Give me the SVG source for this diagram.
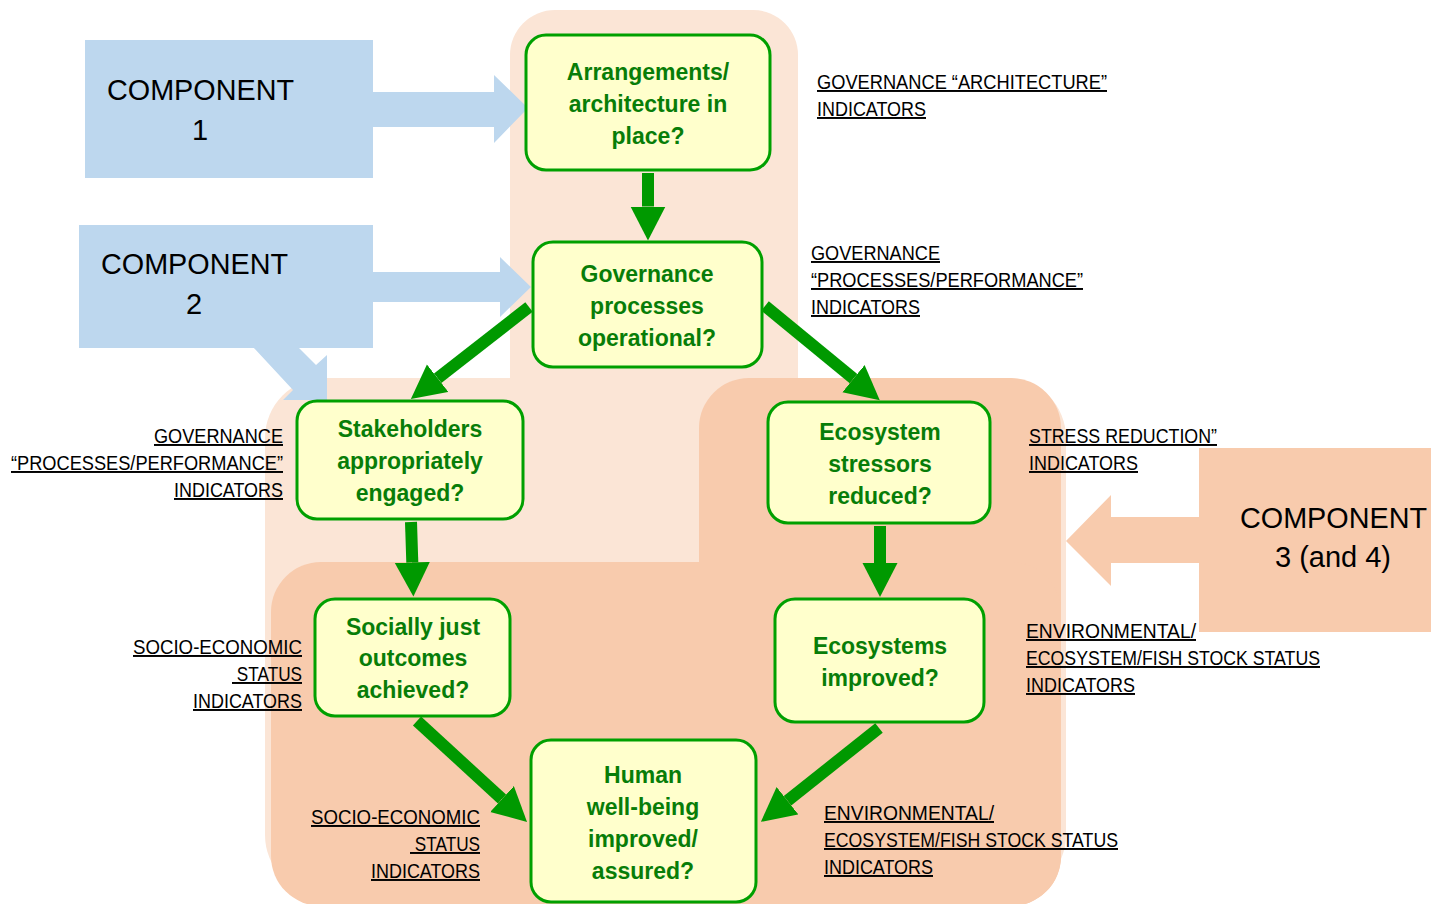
<svg xmlns="http://www.w3.org/2000/svg" width="1431" height="904" viewBox="0 0 1431 904">
<defs>
<style>
.bgl{fill:#FBE5D6}
.bgd{fill:#F8CBAD}
.blue{fill:#BDD7EE}
.comp{font-family:"Liberation Sans",Arial,sans-serif;font-size:29px;fill:#000}
.box{fill:#FFFFCC;stroke:#00A000;stroke-width:3}
.bt{font-family:"Liberation Sans",Arial,sans-serif;font-size:23px;font-weight:bold;fill:#087D08;text-anchor:middle}
.lab{font-family:"Liberation Sans",Arial,sans-serif;font-size:19.5px;fill:#000;text-decoration:underline;white-space:pre}
.r{text-anchor:end}
.shaft{stroke:#009900;stroke-width:12;fill:none}
</style>
<marker id="ah" markerUnits="userSpaceOnUse" markerWidth="36" markerHeight="36" refX="0" refY="17.5" orient="auto" viewBox="0 0 36 36">
<path d="M0,0 L34,17.5 L0,35 Z" fill="#009900"/>
</marker>
</defs>
<rect width="1431" height="904" fill="#FFFFFF"/>
<g id="background">
<rect class="bgl" x="510" y="10" width="288" height="600" rx="45" ry="45"/>
<rect class="bgl" x="265" y="378" width="801" height="517" rx="60" ry="60"/>
<rect class="bgd" x="699" y="378" width="362" height="528" rx="50" ry="50"/>
<rect class="bgd" x="271" y="562" width="790" height="344" rx="50" ry="50"/>
</g>
<g id="component1">
<rect class="blue" x="85" y="40" width="288" height="138"/>
<polygon class="blue" points="372,92 494,92 494,75 528,108 494,143 494,127 372,127"/>
<text class="comp" x="107" y="100" textLength="187" lengthAdjust="spacingAndGlyphs">COMPONENT</text>
<text class="comp" x="200" y="140" text-anchor="middle">1</text>
</g>
<g id="component2">
<rect class="blue" x="79" y="225" width="294" height="123"/>
<polygon class="blue" points="372,272 500,272 500,257 531,287 500,317 500,302 372,302"/>
<polygon class="blue" points="253,347 298,347 316,365 327,355 327,400 283,400 293,390"/>
<text class="comp" x="101" y="274" textLength="187" lengthAdjust="spacingAndGlyphs">COMPONENT</text>
<text class="comp" x="194" y="314" text-anchor="middle">2</text>
</g>
<g id="component3">
<rect class="bgd" x="1199" y="448" width="232" height="184"/>
<polygon class="bgd" points="1200,517 1111,517 1111,495 1066,541 1111,586 1111,563 1200,563"/>
<text class="comp" x="1240" y="528" textLength="187" lengthAdjust="spacingAndGlyphs">COMPONENT</text>
<text class="comp" x="1333" y="567" text-anchor="middle">3 (and 4)</text>
</g>
<g id="connectors">
<line class="shaft" x1="648" y1="173" x2="648" y2="206.5" marker-end="url(#ah)"/>
<line class="shaft" x1="529" y1="307" x2="437.7" y2="378.2" marker-end="url(#ah)"/>
<line class="shaft" x1="765" y1="306" x2="853.5" y2="378.6" marker-end="url(#ah)"/>
<line class="shaft" x1="411" y1="522" x2="412.3" y2="562.5" marker-end="url(#ah)"/>
<line class="shaft" x1="880" y1="526" x2="880" y2="563" marker-end="url(#ah)"/>
<line class="shaft" x1="417" y1="721" x2="502" y2="799" marker-end="url(#ah)"/>
<line class="shaft" x1="879" y1="728" x2="787.5" y2="800.7" marker-end="url(#ah)"/>
</g>
<g id="n-arrangements">
<rect class="box" x="526" y="35" width="244" height="135" rx="20" ry="20"/>
<text class="bt" x="648" y="80">Arrangements/</text>
<text class="bt" x="648" y="112">architecture in</text>
<text class="bt" x="648" y="144">place?</text>
</g>
<g id="n-governance">
<rect class="box" x="533" y="242" width="229" height="125" rx="20" ry="20"/>
<text class="bt" x="647" y="282">Governance</text>
<text class="bt" x="647" y="314">processes</text>
<text class="bt" x="647" y="346">operational?</text>
</g>
<g id="n-stakeholders">
<rect class="box" x="297" y="401" width="226" height="118" rx="20" ry="20"/>
<text class="bt" x="410" y="437">Stakeholders</text>
<text class="bt" x="410" y="469">appropriately</text>
<text class="bt" x="410" y="501">engaged?</text>
</g>
<g id="n-stressors">
<rect class="box" x="768" y="402" width="222" height="121" rx="20" ry="20"/>
<text class="bt" x="880" y="440">Ecosystem</text>
<text class="bt" x="880" y="472">stressors</text>
<text class="bt" x="880" y="504">reduced?</text>
</g>
<g id="n-socially">
<rect class="box" x="315" y="599" width="195" height="117" rx="20" ry="20"/>
<text class="bt" x="413" y="635">Socially just</text>
<text class="bt" x="413" y="666">outcomes</text>
<text class="bt" x="413" y="698">achieved?</text>
</g>
<g id="n-ecosystems">
<rect class="box" x="775" y="599" width="209" height="123" rx="20" ry="20"/>
<text class="bt" x="880" y="654">Ecosystems</text>
<text class="bt" x="880" y="686">improved?</text>
</g>
<g id="n-human">
<rect class="box" x="531" y="740" width="225" height="162" rx="20" ry="20"/>
<text class="bt" x="643" y="783">Human</text>
<text class="bt" x="643" y="815">well-being</text>
<text class="bt" x="643" y="847">improved/</text>
<text class="bt" x="643" y="879">assured?</text>
</g>
<g id="labels">
<text class="lab" x="817" y="89" textLength="290" lengthAdjust="spacingAndGlyphs">GOVERNANCE “ARCHITECTURE”</text>
<text class="lab" x="817" y="116" textLength="109" lengthAdjust="spacingAndGlyphs">INDICATORS</text>
<text class="lab" x="811" y="260" textLength="129" lengthAdjust="spacingAndGlyphs">GOVERNANCE</text>
<text class="lab" x="811" y="287" textLength="272" lengthAdjust="spacingAndGlyphs">“PROCESSES/PERFORMANCE”</text>
<text class="lab" x="811" y="314" textLength="109" lengthAdjust="spacingAndGlyphs">INDICATORS</text>
<text class="lab r" x="283" y="443" textLength="129" lengthAdjust="spacingAndGlyphs">GOVERNANCE</text>
<text class="lab r" x="283" y="470" textLength="272" lengthAdjust="spacingAndGlyphs">“PROCESSES/PERFORMANCE”</text>
<text class="lab r" x="283" y="497" textLength="109" lengthAdjust="spacingAndGlyphs">INDICATORS</text>
<text class="lab" x="1029" y="443" textLength="188" lengthAdjust="spacingAndGlyphs">STRESS REDUCTION”</text>
<text class="lab" x="1029" y="470" textLength="109" lengthAdjust="spacingAndGlyphs">INDICATORS</text>
<text class="lab r" x="302" y="654" textLength="169" lengthAdjust="spacingAndGlyphs">SOCIO-ECONOMIC</text>
<text class="lab r" x="302" y="681" textLength="70" lengthAdjust="spacingAndGlyphs"> STATUS</text>
<text class="lab r" x="302" y="708" textLength="109" lengthAdjust="spacingAndGlyphs">INDICATORS</text>
<text class="lab" x="1026" y="638" textLength="170" lengthAdjust="spacingAndGlyphs">ENVIRONMENTAL/</text>
<text class="lab" x="1026" y="665" textLength="294" lengthAdjust="spacingAndGlyphs">ECOSYSTEM/FISH STOCK STATUS</text>
<text class="lab" x="1026" y="692" textLength="109" lengthAdjust="spacingAndGlyphs">INDICATORS</text>
<text class="lab r" x="480" y="824" textLength="169" lengthAdjust="spacingAndGlyphs">SOCIO-ECONOMIC</text>
<text class="lab r" x="480" y="851" textLength="70" lengthAdjust="spacingAndGlyphs"> STATUS</text>
<text class="lab r" x="480" y="878" textLength="109" lengthAdjust="spacingAndGlyphs">INDICATORS</text>
<text class="lab" x="824" y="820" textLength="170" lengthAdjust="spacingAndGlyphs">ENVIRONMENTAL/</text>
<text class="lab" x="824" y="847" textLength="294" lengthAdjust="spacingAndGlyphs">ECOSYSTEM/FISH STOCK STATUS</text>
<text class="lab" x="824" y="874" textLength="109" lengthAdjust="spacingAndGlyphs">INDICATORS</text>
</g>
</svg>
